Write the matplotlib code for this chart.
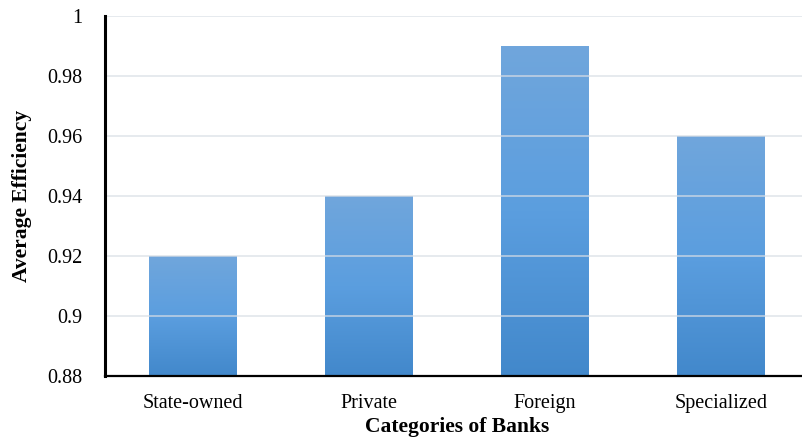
import matplotlib
matplotlib.use("Agg")
import matplotlib.pyplot as plt
import numpy as np
from matplotlib.colors import LinearSegmentedColormap

categories = ["State-owned", "Private", "Foreign", "Specialized"]
values = [0.92, 0.94, 0.99, 0.96]
yticks = [0.88, 0.9, 0.92, 0.94, 0.96, 0.98, 1.0]
ytick_labels = ["0.88", "0.9", "0.92", "0.94", "0.96", "0.98", "1"]

plt.rcParams['font.family'] = ['Liberation Serif', 'DejaVu Serif']

W, H = 802, 440
fig = plt.figure(figsize=(W/100, H/100), dpi=100)
left, right = 105, 809
top, bottom = 16, 376
ax = fig.add_axes([left/W, 1 - bottom/H, (right-left)/W, (bottom-top)/H])

x = np.arange(len(categories))
bars = ax.bar(x, values, width=0.5, color='none', edgecolor='none', zorder=2)
cmap = LinearSegmentedColormap.from_list('g', ['#4288CB', '#5B9EDF', '#70A6DC'])
grad = np.linspace(0, 1, 256).reshape(-1, 1)
for b in bars:
    x0, w, h = b.get_x(), b.get_width(), b.get_height()
    im = ax.imshow(grad, cmap=cmap, origin='lower', aspect='auto',
                   extent=[x0, x0 + w, 0.88, h], zorder=2)
    im.set_clip_path(b)

ax.set_xlim(-0.5, 3.5)
ax.set_ylim(0.88, 1.0)
ax.set_yticks(yticks)
ax.set_yticklabels(ytick_labels)
ax.set_xticks(x)
ax.set_xticklabels(categories)
ax.yaxis.grid(True, color='#D9DEE5', linewidth=1.3, alpha=0.7, zorder=3)
ax.set_axisbelow(False)
ax.tick_params(axis='both', length=0, labelsize=14.5)
ax.tick_params(axis='y', pad=16)
ax.tick_params(axis='x', pad=13)
for s in ['top', 'right']:
    ax.spines[s].set_visible(False)
ax.spines['left'].set_linewidth(2.2)
ax.spines['bottom'].set_linewidth(1.6)
ax.spines['left'].set_zorder(5)
ax.spines['bottom'].set_zorder(5)
ax.set_ylabel("Average Efficiency", fontsize=15.5, fontweight='bold', labelpad=11)
ax.set_xlabel("Categories of Banks", fontsize=15.5, fontweight='bold', labelpad=3)

fig.savefig("out.png", dpi=100)
